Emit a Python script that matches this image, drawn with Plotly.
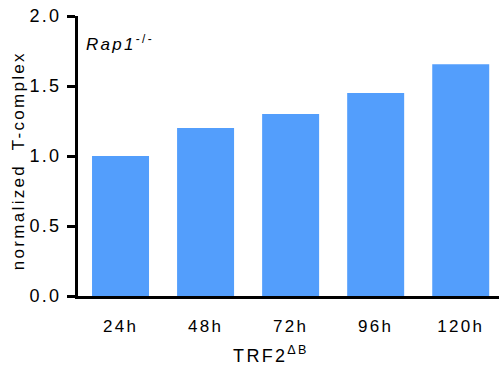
import plotly.graph_objects as go

categories = ["24h", "48h", "72h", "96h", "120h"]
values = [1.0, 1.2, 1.3, 1.45, 1.655]
y_ticks = [0, 0.5, 1.0, 1.5, 2.0]
y_tick_labels = ["0.0", "0.5", "1.0", "1.5", "2.0"]

font_family = "Liberation Sans, Arial, sans-serif"

fig = go.Figure(go.Bar(
    x=categories, y=values,
    marker=dict(color="#539EFC", line=dict(width=0)),
    width=0.67,
))

fig.update_layout(
    width=499, height=369,
    margin=dict(l=78, r=0, t=16, b=73),
    plot_bgcolor="white", paper_bgcolor="white",
    font=dict(family=font_family, size=18, color="black"),
    showlegend=False,
)
fig.update_xaxes(
    range=[-0.5, 4.45],
    showline=True, linecolor="black", linewidth=3,
    ticks="", showgrid=False, zeroline=False,
    tickfont=dict(size=17),
    ticklabelstandoff=13,
    automargin=False,
)
fig.update_yaxes(
    range=[0, 2.0],
    tickvals=y_ticks, ticktext=y_tick_labels,
    showline=True, linecolor="black", linewidth=3,
    ticks="outside", ticklen=8, tickwidth=2.5, tickcolor="black",
    showgrid=False, zeroline=False,
    tickfont=dict(size=18),
    ticklabelstandoff=2,
    automargin=False,
)
# x-axis title
fig.add_annotation(
    text="TRF2<sup>ΔB</sup>",
    xref="paper", yref="paper", x=0.458, y=-0.21,
    xanchor="center", yanchor="middle", showarrow=False,
    font=dict(size=18),
)
# y-axis title
fig.add_annotation(
    text="normalized  T-complex",
    xref="paper", yref="paper", x=-0.143, y=0.485,
    xanchor="center", yanchor="middle", showarrow=False, textangle=-90,
    font=dict(size=17),
)
fig.add_annotation(
    text="<i>Rap1</i><sup>-/-</sup>",
    xref="paper", yref="paper", x=0.033, y=0.905,
    xanchor="left", yanchor="middle", showarrow=False,
    font=dict(size=17),
)

post = """
document.body.style.margin = '0';
document.body.style.padding = '0';
var gd = document.getElementById('{plot_id}');
function spacing(){
  gd.querySelectorAll('.xtick text, .ytick text, .annotation-text').forEach(function(el){
    el.style.letterSpacing = '2.3px';
  });
}
spacing();
gd.on('plotly_afterplot', spacing);
"""
fig.write_html("out.html", post_script=post, config={"displayModeBar": False})
